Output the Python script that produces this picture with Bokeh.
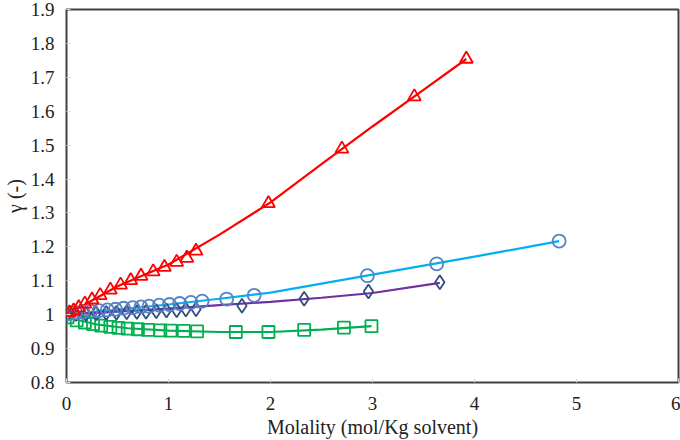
from bokeh.plotting import figure
from bokeh.models import FixedTicker, NumeralTickFormatter, Range1d
from bokeh.embed import file_html
from bokeh.resources import INLINE

# ---- data ----
x_ticks = [0, 1, 2, 3, 4, 5, 6]
y_ticks = [0.8, 0.9, 1.0, 1.1, 1.2, 1.3, 1.4, 1.5, 1.6, 1.7, 1.8, 1.9]

# red triangles
tri_m = [0.03, 0.07, 0.12, 0.18, 0.25, 0.33, 0.43, 0.53, 0.63, 0.73, 0.85, 0.96, 1.08, 1.18, 1.27, 1.98, 2.70, 3.41, 3.92]
tri_g = [1.006, 1.012, 1.021, 1.032, 1.044, 1.057, 1.073, 1.088, 1.101, 1.114, 1.127, 1.140, 1.155, 1.167, 1.188, 1.328, 1.489, 1.643, 1.754]
red_line_m = [0, 0.5, 1.0, 1.5, 2.0, 2.5, 3.0, 3.5, 3.92]
red_line_g = [1.0, 1.084, 1.148, 1.236, 1.331, 1.444, 1.555, 1.663, 1.754]

# circles
cir_m = [0.02, 0.09, 0.16, 0.24, 0.32, 0.40, 0.48, 0.56, 0.65, 0.73, 0.81, 0.91, 1.01, 1.11, 1.22, 1.33, 1.57, 1.84, 2.95, 3.63, 4.83]
cir_g = [1.003, 1.006, 1.008, 1.010, 1.012, 1.014, 1.016, 1.019, 1.021, 1.023, 1.025, 1.028, 1.030, 1.033, 1.036, 1.040, 1.046, 1.057, 1.115, 1.150, 1.217]
blue_line_m = [0, 0.5, 1.0, 1.5, 2.0, 3.0, 4.0, 4.83]
blue_line_g = [1.0, 1.015, 1.030, 1.047, 1.065, 1.118, 1.171, 1.217]

# diamonds
dia_m = [0.01, 0.09, 0.19, 0.29, 0.39, 0.49, 0.59, 0.69, 0.78, 0.88, 0.98, 1.08, 1.17, 1.27, 1.72, 2.33, 2.96, 3.66]
dia_g = [1.002, 1.002, 1.003, 1.004, 1.005, 1.006, 1.007, 1.008, 1.009, 1.010, 1.012, 1.013, 1.015, 1.016, 1.026, 1.047, 1.068, 1.096]
purple_line_m = [0, 0.5, 1.0, 1.5, 2.0, 2.5, 3.0, 3.66]
purple_line_g = [1.0, 1.009, 1.018, 1.028, 1.038, 1.050, 1.064, 1.094]

# squares
sq_m = [0.01, 0.10, 0.18, 0.26, 0.34, 0.43, 0.51, 0.60, 0.70, 0.80, 0.92, 1.02, 1.15, 1.28, 1.66, 1.98, 2.33, 2.72, 2.99]
sq_g = [0.992, 0.983, 0.977, 0.972, 0.968, 0.964, 0.961, 0.959, 0.957, 0.955, 0.954, 0.953, 0.952, 0.951, 0.949, 0.949, 0.955, 0.962, 0.966]
green_line_m = [0, 0.1, 0.3, 0.6, 1.0, 1.5, 2.0, 2.5, 2.99]
green_line_g = [1.0, 0.985, 0.971, 0.960, 0.953, 0.949, 0.949, 0.956, 0.966]

FONT = "Liberation Serif"

p = figure(width=680, height=440, output_backend="svg", toolbar_location=None,
           x_range=Range1d(0, 6), y_range=Range1d(0.8, 1.9),
           min_border_left=66, min_border_right=2, min_border_top=9, min_border_bottom=58)
p.outline_line_color = "#404040"
p.outline_line_width = 2
p.grid.visible = False
p.background_fill_color = "white"
p.border_fill_color = "white"

for ax in (p.xaxis[0], p.yaxis[0]):
    ax.axis_line_color = None
    ax.major_tick_in = 4
    ax.major_tick_out = 0
    ax.major_tick_line_color = "#D9D9D9"
    ax.minor_tick_line_color = None
    ax.major_label_text_font = FONT
    ax.major_label_text_font_size = "19px"
    ax.major_label_text_color = "#222222"
    ax.axis_label_text_font = FONT
    ax.axis_label_text_font_size = "20px"
    ax.axis_label_text_font_style = "normal"
    ax.axis_label_text_color = "#222222"

p.xaxis.ticker = FixedTicker(ticks=x_ticks)
p.yaxis.ticker = FixedTicker(ticks=y_ticks)
p.yaxis.formatter = NumeralTickFormatter(format="0.[0]")
p.xaxis.major_label_standoff = 14
p.yaxis.major_label_standoff = 12
p.xaxis.axis_label_standoff = 3
p.yaxis.axis_label_standoff = 2
p.xaxis.axis_label = "Molality (mol/Kg solvent)"
p.yaxis.axis_label = "γ (-)"

# lines
p.line(red_line_m, red_line_g, line_color="#FF0000", line_width=2.2)
p.line(blue_line_m, blue_line_g, line_color="#00B0F0", line_width=2.2)
p.line(purple_line_m, purple_line_g, line_color="#7030A0", line_width=2.2)
p.line(green_line_m, green_line_g, line_color="#00B050", line_width=2.2)

# markers
p.scatter(sq_m, sq_g, marker="square", size=12, fill_color=None, line_color="#00B050", line_width=1.8)
p.scatter(dia_m, dia_g, marker="diamond", size=14, fill_color=None, line_color="#2F4E7E", line_width=1.8)
p.scatter(cir_m, cir_g, marker="circle", size=13, fill_color=None, line_color="#5582C8", line_width=1.8)
p.scatter(tri_m, tri_g, marker="triangle", size=13, fill_color=None, line_color="#FF0000", line_width=1.8)

open("out.html", "w").write(file_html(p, INLINE))
